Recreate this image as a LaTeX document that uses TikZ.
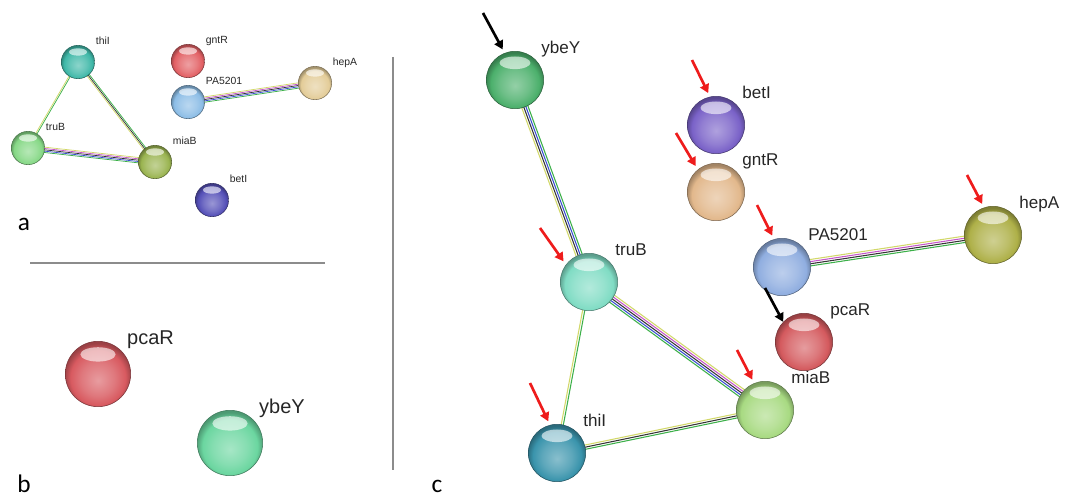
\documentclass[tikz,border=0pt]{standalone}
\usepackage{fontspec}
\setmainfont{Liberation Sans}
\newfontfamily\panelfont{Carlito}
\usetikzlibrary{arrows.meta,calc,backgrounds}

% link colours
\definecolor{lkyel}{HTML}{D2D86A}
\definecolor{lkmag}{HTML}{C456C8}
\definecolor{lkblk}{HTML}{353535}
\definecolor{lkblu}{HTML}{3A4ED2}
\definecolor{lkgrn}{HTML}{3DB04A}
\definecolor{arrred}{HTML}{EE1C1C}
\definecolor{sepgray}{HTML}{8C8C8C}

% sphere colours
\definecolor{thiAcol}{HTML}{3FB8A8}
\definecolor{gntAcol}{HTML}{E26064}
\definecolor{paAcol}{HTML}{8CBDE6}
\definecolor{hepAcol}{HTML}{E3CC98}
\definecolor{truAcol}{HTML}{86D886}
\definecolor{miaAcol}{HTML}{9AB450}
\definecolor{betAcol}{HTML}{5550B8}
\definecolor{pcaBcol}{HTML}{D85A60}
\definecolor{ybeBcol}{HTML}{6BD6A0}
\definecolor{ybeCcol}{HTML}{4CB06C}
\definecolor{betCcol}{HTML}{7A62C8}
\definecolor{gntCcol}{HTML}{E2B88C}
\definecolor{truCcol}{HTML}{80DCC4}
\definecolor{thiCcol}{HTML}{3A94AC}
\definecolor{miaCcol}{HTML}{A8DA82}
\definecolor{paCcol}{HTML}{90AEE0}
\definecolor{hepCcol}{HTML}{AEB048}
\definecolor{pcaCcol}{HTML}{D45A5E}

% glossy sphere shading, takes colour sphcol
\colorlet{sphcol}{gray}
\pgfdeclareradialshading[sphcol]{strball}{\pgfpoint{0bp}{-5bp}}{%
  color(0bp)=(sphcol!60!white); color(13bp)=(sphcol!82!white);
  color(21bp)=(sphcol); color(26bp)=(sphcol!72!black); color(50bp)=(sphcol!60!black)}

% #1 from, #2 to, #3 gap (pt), #4 colours
\newcommand{\strlink}[4]{%
  \foreach \lcol [count=\k] in {#4} {\xdef\nlink{\k}}
  \foreach \lcol [count=\k] in {#4} {
    \pgfmathsetmacro\off{(\k-(\nlink+1)/2)*#3}
    \draw[link, \lcol] ($(#1.center)!\off pt!90:(#2.center)$) -- ($(#2.center)!\off pt!-90:(#1.center)$);
  }}

\begin{document}
\begin{tikzpicture}[
    x=0.75pt, y=-0.75pt,
    sph/.style={circle, inner sep=0pt, /utils/exec={\colorlet{sphcol}{#1}}, shading=strball,
      draw=#1!55!black, line width=0.4pt,
      path picture={\fill[white, opacity=0.6] let \p1=($(path picture bounding box.north east)-(path picture bounding box.south west)$)
        in ($(path picture bounding box.north)+(0pt,-0.2*\y1)$) ellipse ({0.27*\x1} and {0.11*\y1});}},
    sa/.style={minimum size=25pt},
    sb/.style={minimum size=49pt},
    sc/.style={minimum size=43pt},
    lab/.style={anchor=south west, inner sep=0pt, text depth=0pt, text=black!85},
    laba/.style={lab, font=\fontsize{7.8}{9}\selectfont},
    labb/.style={lab, font=\fontsize{15}{18}\selectfont},
    labc/.style={lab, font=\fontsize{12.8}{15}\selectfont},
    every label/.style={label distance=6pt},
    link/.style={line width=0.8pt},
    panel/.style={font=\panelfont\fontsize{19}{22}\selectfont, inner sep=0pt},
    sep/.style={draw=sepgray, line width=1.1pt},
    redarrow/.style={draw=arrred, line width=2pt, -{Triangle[length=6.5pt,width=7pt]}, shorten >=3pt},
    blkarrow/.style={redarrow, draw=black}
]
\useasboundingbox (0,0) rectangle (1068,499);

% Panel a
\node[sph=thiAcol, sa, label={[laba]45:thiI}]   (thiA) at (78,62)   {};
\node[sph=gntAcol, sa, label={[laba]45:gntR}]   (gntA) at (188,61)  {};
\node[sph=paAcol,  sa, label={[laba]45:PA5201}] (paA)  at (188,102) {};
\node[sph=hepAcol, sa, label={[laba]45:hepA}]   (hepA) at (315,83)  {};
\node[sph=truAcol, sa, label={[laba]45:truB}]   (truA) at (28,148)  {};
\node[sph=miaAcol, sa, label={[laba]45:miaB}]   (miaA) at (155,162) {};
\node[sph=betAcol, sa, label={[laba]45:betI}]   (betA) at (212,200) {};

% Panel b
\node[sph=pcaBcol, sb, label={[labb]45:pcaR}] (pcaB) at (98,374)  {};
\node[sph=ybeBcol, sb, label={[labb]45:ybeY}] (ybeB) at (230,443) {};

% Panel c
\node[sph=ybeCcol, sc, label={[labc]45:ybeY}]   (ybeC) at (515,80)  {};
\node[sph=betCcol, sc, label={[labc]45:betI}]   (betC) at (716,125) {};
\node[sph=gntCcol, sc, label={[labc]45:gntR}]   (gntC) at (716,192) {};
\node[sph=truCcol, sc, label={[labc]45:truB}]   (truC) at (589,282) {};
\node[sph=thiCcol, sc, label={[labc]45:thiI}]   (thiC) at (557,453) {};
\node[sph=miaCcol, sc, label={[labc]45:miaB}]   (miaC) at (765,410) {};
\node[sph=paCcol,  sc, label={[labc]45:PA5201}] (paC)  at (782,267) {};
\node[sph=hepCcol, sc, label={[labc]45:hepA}]   (hepC) at (993,235) {};
\node[sph=pcaCcol, sc, label={[labc]45:pcaR}]   (pcaC) at (804,342) {};

% Links
\begin{pgfonlayer}{background}
  \begin{scope}[link/.style={line width=0.55pt}]
    \strlink{thiA}{truA}{1.0}{lkyel,lkgrn}
    \strlink{thiA}{miaA}{1.0}{lkyel,lkblk,lkgrn}
    \strlink{truA}{miaA}{1.0}{lkgrn,lkblu,lkblk,lkmag,lkyel}
    \strlink{paA}{hepA}{1.0}{lkgrn,lkblu,lkblk,lkmag,lkyel}
  \end{scope}
  \strlink{ybeC}{truC}{1.6}{lkyel,lkblk,lkblu,lkgrn}
  \strlink{truC}{miaC}{1.6}{lkgrn,lkblu,lkblk,lkmag,lkyel}
  \strlink{truC}{thiC}{1.6}{lkyel,lkgrn}
  \strlink{thiC}{miaC}{1.6}{lkgrn,lkblk,lkyel}
  \strlink{paC}{hepC}{1.6}{lkgrn,lkblk,lkmag,lkyel}
\end{pgfonlayer}

% Arrows
\coordinate (tybe) at (483,13);
\coordinate (tbet) at (692,60);
\coordinate (tgnt) at (676,133);
\coordinate (ttru) at (540,228);
\coordinate (tthi) at (530,383);
\coordinate (tmia) at (737,350);
\coordinate (tpa)  at (757,205);
\coordinate (thep) at (967,175);
\coordinate (tpca) at (765,288);
\draw[blkarrow] (tybe) -- (ybeC.111);
\draw[redarrow] (tbet) -- (betC.102);
\draw[redarrow] (tgnt) -- (gntC.129);
\draw[redarrow] (ttru) -- (truC.143);
\draw[redarrow] (tthi) -- (thiC.104);
\draw[redarrow] (tmia) -- (miaC.112);
\draw[redarrow] (tpa)  -- (paC.106);
\draw[redarrow] (thep) -- (hepC.108);
\draw[blkarrow, shorten >=0pt] (tpca) -- (pcaC.136);

% Separators and panel letters
\draw[sep] (30,263) -- (325,263);
\draw[sep] (393,57) -- (393,470);
\node[panel] (pa) at (24,224) {a};
\node[panel] (pb) at (24,484) {b};
\node[panel] (pc) at (437,486) {c};

\end{tikzpicture}
\end{document}
